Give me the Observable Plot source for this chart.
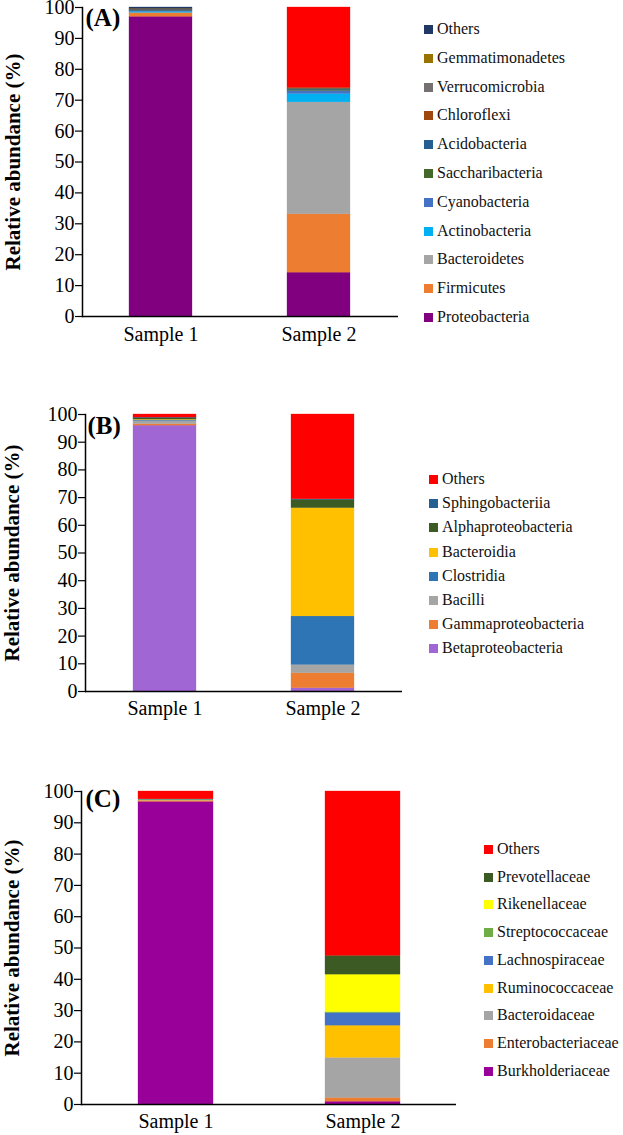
<!DOCTYPE html>
<html>
<head>
<meta charset="utf-8">
<script src="https://cdn.jsdelivr.net/npm/d3@7"></script>
<script src="https://cdn.jsdelivr.net/npm/@observablehq/plot@0.6"></script>
</head>
<body style="margin:0;padding:0;background:#fff">
<div id="root" style="position:relative;width:623px;height:1135px;overflow:hidden"></div>
<script>
// ---------- data ----------
const samples = ["Sample 1", "Sample 2"];
const yTicks = [0, 10, 20, 30, 40, 50, 60, 70, 80, 90, 100];
const yLabel = "Relative abundance (%)";

// Panel A: phyla (stack order bottom -> top)
const phylaA = ["Proteobacteria", "Firmicutes", "Bacteroidetes", "Actinobacteria", "Cyanobacteria", "Saccharibacteria", "Acidobacteria", "Chloroflexi", "Verrucomicrobia", "Gemmatimonadetes", "Others"];
const sample1A = [97.0, 1.2, 0.1, 0.3, 0.3, 0.1, 0.3, 0.1, 0.1, 0.1, 0.4];
const sample2A = [14.2, 18.9, 36.2, 2.7, 1.0, 0.4, 0.3, 0.1, 0.1, 0.1, 26.0];
const colorsA = ["#800080", "#ed7d31", "#a5a5a5", "#00b0f0", "#4472c4", "#43682b", "#255e91", "#9e480e", "#767171", "#997300", "#1f3864"];
const othersBarColorsA = ["#1f3864", "#ff0000"]; // "Others" segment as drawn in Sample 1 / Sample 2

// Panel B: classes
const classesB = ["Betaproteobacteria", "Gammaproteobacteria", "Bacilli", "Clostridia", "Bacteroidia", "Alphaproteobacteria", "Sphingobacteriia", "Others"];
const sample1B = [96.0, 0.5, 1.2, 0.3, 0.2, 0.5, 0.2, 1.1];
const sample2B = [1.2, 5.4, 3.0, 17.5, 39.1, 3.0, 0.2, 30.6];
const colorsB = ["#a066d3", "#ed7d31", "#a5a5a5", "#2e75b6", "#ffc000", "#3b5a24", "#255e91", "#ff0000"];

// Panel C: families
const familiesC = ["Burkholderiaceae", "Enterobacteriaceae", "Bacteroidaceae", "Ruminococcaceae", "Lachnospiraceae", "Streptococcaceae", "Rikenellaceae", "Prevotellaceae", "Others"];
const sample1C = [96.7, 0.3, 0.1, 0.1, 0.2, 0.1, 0.0, 0.0, 2.5];
const sample2C = [0.9, 1.2, 12.8, 10.3, 4.0, 0.3, 12.0, 6.0, 52.5];
const colorsC = ["#990099", "#ed7d31", "#a5a5a5", "#ffc000", "#4472c4", "#70ad47", "#ffff00", "#3b5a24", "#ff0000"];

// ---------- helpers ----------
const alias = document.createElement("style");
alias.textContent = '@font-face { font-family: "RefSerif"; src: local("Liberation Serif"), local("LiberationSerif"); font-weight: normal; }' +
  '@font-face { font-family: "RefSerif"; src: local("Liberation Serif Bold"), local("LiberationSerif-Bold"); font-weight: bold; }';
document.head.appendChild(alias);
const FONT = '"Liberation Serif", "RefSerif", serif';
const root = document.getElementById("root");
function setFont(el) { el.style.setProperty("font-family", FONT, "important"); }
setFont(root);

function rows(names, s1, s2) {
  const out = [];
  [s1, s2].forEach((vals, si) => {
    names.forEach((n, i) => out.push({sample: samples[si], si, name: n, idx: i, value: vals[i]}));
  });
  return out;
}

function panel(cfg) {
  const data = rows(cfg.names, cfg.s1, cfg.s2);
  const plot = Plot.plot({
    width: 623,
    height: cfg.height,
    marginLeft: cfg.left,
    marginRight: 623 - cfg.right,
    marginTop: cfg.top,
    marginBottom: cfg.bottom,
    style: {fontFamily: FONT, color: "#000", background: "transparent", overflow: "visible"},
    x: {domain: samples, paddingInner: 0.6, paddingOuter: 0.3, align: 0.5},
    y: {domain: [0, 100]},
    marks: [
      Plot.barY(data, {
        x: "sample", y: "value", z: "name",
        fill: d => cfg.fill(d),
        stroke: d => cfg.fill(d), strokeWidth: 0.3
      }),
      Plot.axisY({ticks: yTicks, tickSize: 7, tickPadding: 1, fontSize: 20, label: null, strokeWidth: 1.2}),
      Plot.axisX({tickSize: 0, tickPadding: cfg.xPad, fontSize: 20, label: null}),
      Plot.frame({anchor: "left", strokeWidth: 1.5}),
      Plot.ruleY([0], {strokeWidth: 1.5}),
      Plot.text([yLabel], {frameAnchor: "left", dx: cfg.labelDx, rotate: -90, textAnchor: "middle", lineAnchor: "middle", fontSize: 21, fontWeight: "bold"}),
      Plot.text([cfg.tag], {frameAnchor: "top-left", dx: cfg.tagDx, dy: cfg.tagDy, textAnchor: "start", lineAnchor: "top", fontSize: 25, fontWeight: "bold"})
    ]
  });
  plot.setAttribute("font-family", FONT);
  setFont(plot);
  plot.querySelectorAll("g, text").forEach(setFont);
  const wrap = document.createElement("div");
  wrap.style.position = "absolute";
  wrap.style.left = "0px";
  wrap.style.top = cfg.y0 + "px";
  wrap.appendChild(plot);
  root.appendChild(wrap);
}

function legend(names, colors, cfg) {
  const order = names.map((n, i) => i).reverse();
  order.forEach((i, k) => {
    const it = document.createElement("div");
    Object.assign(it.style, {
      position: "absolute", left: cfg.x + "px", top: (cfg.y + k * cfg.step - 10) + "px",
      height: "20px", lineHeight: "20px", whiteSpace: "nowrap",
      fontSize: "16px", color: "#111"
    });
    setFont(it);
    const sw = document.createElement("span");
    Object.assign(sw.style, {display: "inline-block", width: "9px", height: "9px", marginRight: "4px", background: colors[i], verticalAlign: "0px"});
    it.appendChild(sw);
    const lab = document.createElement("span");
    lab.textContent = names[i];
    setFont(lab);
    it.appendChild(lab);
    root.appendChild(it);
  });
}

// ---------- panels ----------
panel({
  names: phylaA, s1: sample1A, s2: sample2A, tag: "(A)",
  fill: d => d.name === "Others" ? othersBarColorsA[d.si] : colorsA[d.idx],
  y0: 0, height: 350, left: 82, right: 398, top: 7, bottom: 34,
  xPad: 10, labelDx: -69, tagDx: 3, tagDy: 1
});
legend(phylaA, colorsA, {x: 424, y: 29, step: 28.8});

panel({
  names: classesB, s1: sample1B, s2: sample2B, tag: "(B)",
  fill: d => colorsB[d.idx],
  y0: 380, height: 340, left: 85, right: 402, top: 34, bottom: 29,
  xPad: 9, labelDx: -73, tagDx: 2, tagDy: 2
});
legend(classesB, colorsB, {x: 429, y: 479, step: 24.2});

panel({
  names: familiesC, s1: sample1C, s2: sample2C, tag: "(C)",
  fill: d => colorsC[d.idx],
  y0: 750, height: 385, left: 81, right: 456, top: 41, bottom: 31,
  xPad: 9, labelDx: -69, tagDx: 4, tagDy: -2
});
legend(familiesC, colorsC, {x: 484, y: 849, step: 27.7});
</script>
</body>
</html>
